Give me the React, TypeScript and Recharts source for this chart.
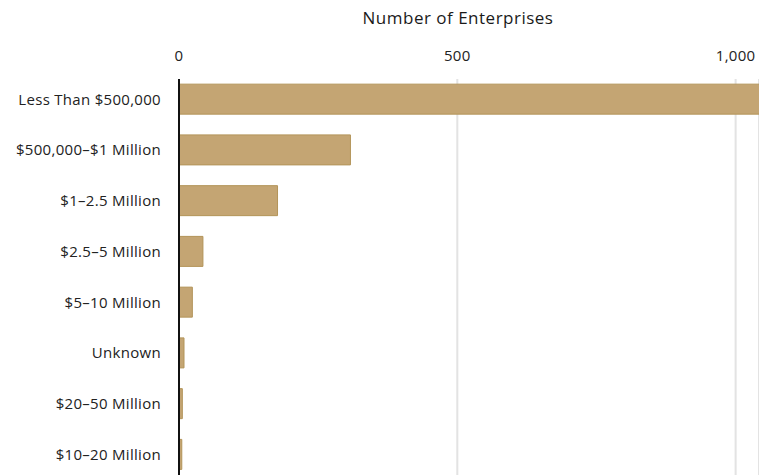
import { BarChart, Bar, XAxis, YAxis, CartesianGrid } from 'recharts'

const categories = [
    'Less Than $500,000',
    '$500,000–$1 Million',
    '$1–2.5 Million',
    '$2.5–5 Million',
    '$5–10 Million',
    'Unknown',
    '$20–50 Million',
    '$10–20 Million',
]
const enterprises = [1150, 308, 177, 43, 24, 9, 6, 5]
const xTicks = [0, 500, 1000]

const data = categories.map((c, i) => ({ category: c, value: enterprises[i] }))

const FONT = '"Open Sans", sans-serif'

export default function App() {
    return (
        <div style={{ position: 'absolute', left: 0, top: 0, width: 759, height: 475, overflow: 'hidden', background: '#fff', fontFamily: FONT }}>
            <div style={{ position: 'absolute', left: 258, width: 400, top: 5, textAlign: 'center', fontSize: 17, letterSpacing: 0.5, color: '#1a1a1a', lineHeight: '26px' }}>
                Number of Enterprises
            </div>
            <BarChart
                width={759}
                height={475}
                data={data}
                layout="vertical"
                margin={{ top: 39, right: 0, bottom: 0, left: 0 }}
                barCategoryGap="20%"
            >
                <CartesianGrid horizontal={false} stroke="#e3e3e3" strokeWidth={2} />
                <XAxis
                    type="number"
                    orientation="top"
                    height={40}
                    domain={[0, 1042]}
                    allowDataOverflow
                    ticks={xTicks}
                    tickFormatter={(v: number) => v.toLocaleString('en-US')}
                    axisLine={false}
                    tickLine={false}
                    tickSize={0}
                    tickMargin={18}
                    tick={{ fontFamily: FONT, fontSize: 15, fill: '#222', letterSpacing: 0.3 }}
                />
                <YAxis
                    type="category"
                    dataKey="category"
                    width={179}
                    padding={{ top: -5, bottom: -5 }}
                    axisLine={{ stroke: '#111', strokeWidth: 2 }}
                    tickLine={false}
                    tickSize={0}
                    tickMargin={18}
                    interval={0}
                    tick={{ fontFamily: FONT, fontSize: 15, fill: '#222', letterSpacing: 0.3 }}
                />
                <Bar dataKey="value" fill="#c4a573" stroke="#b39459" strokeWidth={1} isAnimationActive={false} />
            </BarChart>
        </div>
    )
}
